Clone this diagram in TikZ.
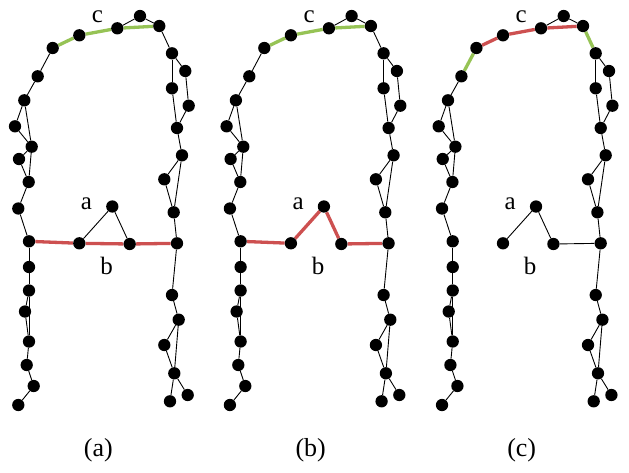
\documentclass[tikz,border=0pt]{standalone}
\usepackage{fontspec}
\setmainfont{Liberation Serif}
\usetikzlibrary{backgrounds}
\definecolor{edgered}{RGB}{205,80,80}
\definecolor{edgegreen}{RGB}{150,195,85}
\tikzset{
  dot/.style={circle, fill=black, inner sep=0pt, minimum size=12.3pt},
  blk/.style={draw=black, line width=0.9pt},
  redline/.style={draw=edgered, line width=3.3pt},
  greenline/.style={draw=edgegreen, line width=3.3pt},
  lbl/.style={font=\fontsize{25}{28}\selectfont, inner sep=0pt},
  captext/.style={font=\fontsize{26}{30}\selectfont, inner sep=0pt}
}
\newcommand\skelnodes[2]{%
  \foreach \n/\x/\y in {t1/52.7/48, t2/79.3/35.3, t3/117.3/28.3, t4/140/16, t5/159.3/26,
    l1/37.7/76.3, l2/24.3/100.3, l3/15/126.3, l4/31.7/146.7, l5/19/159, l6/28.7/182,
    l7/18.3/208.5, l8/29/241.3, l9/29/267, l10/29/290.5, l11/25/311.5, l12/29/341.5,
    l13/26.7/365, l14/33.7/386, l15/18.3/405,
    r1/172/53.3, r2/185.3/71, r3/172/88.3, r4/188.7/105.7, r5/177/128, r6/182/155.3,
    r7/164.3/179.3, r8/173.7/212.3, r9/177/243.3, r10/172/295, r11/178.7/319.7,
    r12/164.3/345, r13/174.3/373.3, r14/187.7/395, r15/170/401.3,
    m1/79.3/243.3, m2/129.7/244, ma/112.3/206.5}
  {\node[dot] (#1\n) at ({\x+#2},\y) {};}
  \node[lbl] (#1la) at ({86.5+#2},203.3) {a};
  \node[lbl] (#1lb) at ({106.5+#2},265.5) {b};
  \node[lbl] (#1lc) at ({97.5+#2},16.7) {c};
}
\newcommand\skelcommon[1]{%
  \foreach \u/\v in {t3/t4, t4/t5, l1/l2, l2/l3, l2/l4, l3/l4, l4/l5, l5/l6, l4/l6,
    l6/l7, l7/l8, l8/l9, l9/l10, l10/l11, l11/l12, l10/l12, l12/l13, l13/l14, l14/l15,
    r1/r2, r2/r4, r4/r5, r1/r3, r3/r5, r5/r6, r6/r7, r7/r8, r6/r8, r8/r9, r9/r10,
    r10/r11, r11/r12, r12/r13, r11/r13, r13/r14, r13/r15}
  {\draw[blk] (#1\u) -- (#1\v);}
}
\begin{document}
\begin{tikzpicture}[x=1pt, y=-1pt]
\useasboundingbox (0,0) rectangle (629,472);
% nodes
\skelnodes{a}{0}
\skelnodes{b}{211.6}
\skelnodes{c}{423.7}
\node[captext] (capa) at (98.3,450) {(a)};
\node[captext] (capb) at (310.7,450) {(b)};
\node[captext] (capc) at (521.7,450) {(c)};
\begin{pgfonlayer}{background}
\skelcommon{a}
\skelcommon{b}
\skelcommon{c}
% panel a
\draw[blk] (at5) -- (ar1);
\draw[blk] (at1) -- (al1);
\draw[greenline] (at1) -- (at2) -- (at3) -- (at5);
\draw[redline] (al8) -- (am1) -- (am2) -- (ar9);
\draw[blk] (am1) -- (ama) -- (am2);
% panel b
\draw[blk] (bt5) -- (br1);
\draw[blk] (bt1) -- (bl1);
\draw[greenline] (bt1) -- (bt2) -- (bt3) -- (bt5);
\draw[redline] (bl8) -- (bm1) -- (bma) -- (bm2) -- (br9);
% panel c
\draw[greenline] (ct5) -- (cr1);
\draw[greenline] (ct1) -- (cl1);
\draw[redline] (ct1) -- (ct2) -- (ct3) -- (ct5);
\draw[blk] (cm1) -- (cma) -- (cm2) -- (cr9);
\end{pgfonlayer}
\end{tikzpicture}
\end{document}
